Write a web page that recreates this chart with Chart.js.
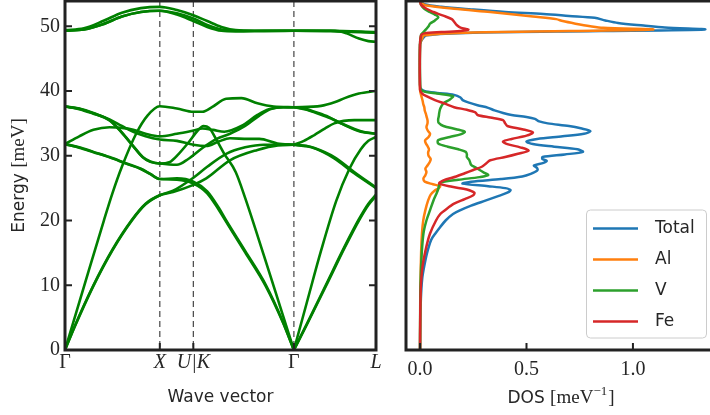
<!DOCTYPE html>
<html><head><meta charset="utf-8">
<script src="https://cdn.jsdelivr.net/npm/chart.js@4.4.1/dist/chart.umd.min.js"></script>
<style>
html,body{margin:0;padding:0;background:#fff;}
#wrap{position:relative;width:710px;height:415px;overflow:hidden;background:#fff;}
canvas{position:absolute;top:0;}
#c1{left:0;} #c2{left:390px;}
</style></head><body>
<div id="wrap"><canvas id="c1" width="390" height="415"></canvas><canvas id="c2" width="320" height="415"></canvas></div>
<script>
// ---------- axis ticks ----------
const kTicks = [0, 1, 1.3536, 2.4142, 3.2802];
const kLabels = ['Γ', 'X', 'U|K', 'Γ', 'L'];
const energyTicks = [0, 10, 20, 30, 40, 50];
const dosTicks = [0, 0.5, 1.0];

// ---------- phonon branches, path Γ–X–U|K–Γ : [k, E (meV)] ----------
const b1 = [[0,49.4],[0.2,49.7],[0.4,50.8],[0.6,52.1],[0.8,52.8],[1,53.0],[1.18,52.5],[1.354,51.7],[1.5,50.8],[1.65,49.9],[1.8,49.4],[2.0,49.3],[2.414,49.3]];
const b2 = [[0,49.3],[0.2,49.5],[0.4,50.3],[0.6,51.5],[0.8,52.2],[1,52.4],[1.18,52.0],[1.354,51.2],[1.5,50.2],[1.65,49.5],[1.8,49.3],[2.414,49.3]];
const b3 = [[0,49.3],[0.2,49.5],[0.4,50.3],[0.6,51.5],[0.8,52.2],[1,52.4],[1.18,51.8],[1.354,50.8],[1.5,49.9],[1.65,49.3],[1.8,49.2],[2.1,49.25],[2.414,49.3]];
const b4 = [[0,0],[0.2,9.8],[0.41,20],[0.5,24.2],[0.6,28.3],[0.75,33.4],[0.87,36.2],[1,37.65],[1.18,37.3],[1.354,36.8],[1.45,36.8],[1.55,37.5],[1.7,38.8],[1.86,38.9],[2.03,38.1],[2.2,37.6],[2.414,37.5]];
const b5 = [[0,31.8],[0.15,33.0],[0.3,34.0],[0.47,34.4],[0.6,34.3],[0.72,34.0],[0.85,33.4],[1,33.0],[1.18,33.4],[1.354,33.9],[1.45,34.2],[1.56,34.0],[1.68,33.7],[1.86,34.6],[2.03,36.3],[2.15,37.2],[2.3,37.5],[2.414,37.5]];
const b6 = [[0,37.6],[0.15,37.2],[0.3,36.5],[0.47,35.6],[0.6,34.6],[0.72,33.7],[0.85,33.0],[1,32.5],[1.18,32.3],[1.354,31.7],[1.49,31.5],[1.62,32.2],[1.74,32.7],[1.93,32.6],[2.05,32.6],[2.24,31.9],[2.414,31.7]];
const b7 = [[0,37.6],[0.15,37.3],[0.3,36.6],[0.47,35.5],[0.6,33.6],[0.72,31.5],[0.82,29.8],[0.9,29.1],[1,28.8],[1.1,29.0],[1.2,30.3],[1.3,32.0],[1.4,33.9],[1.46,34.6],[1.52,34.3],[1.6,32.4],[1.68,30.3],[1.8,27.5],[1.9,23.5],[2.1,14.5],[2.25,7.6],[2.414,0]];
const b8 = [[0,37.6],[0.15,37.25],[0.3,36.55],[0.47,35.45],[0.6,33.55],[0.72,31.45],[0.82,29.75],[0.9,29.05],[1,28.8],[1.18,28.6],[1.3,29.5],[1.45,31.2],[1.6,32.6],[1.74,33.4],[1.9,34.6],[2.05,36.2],[2.17,37.2],[2.3,37.5],[2.414,37.5]];
const b9 = [[0,31.8],[0.15,31.3],[0.3,30.6],[0.47,29.8],[0.65,28.8],[0.8,28.0],[0.9,27.2],[1,26.4],[1.18,26.5],[1.354,26.0],[1.5,24.5],[1.62,22.0],[1.7,20.0],[1.9,15.3],[2.12,10],[2.3,4.3],[2.414,0]];
const b10 = [[0,31.8],[0.15,31.25],[0.3,30.55],[0.47,29.75],[0.65,28.75],[0.8,27.95],[0.9,27.15],[1,26.4],[1.18,26.3],[1.354,25.7],[1.5,24.2],[1.62,21.7],[1.7,19.8],[1.9,15.1],[2.12,9.8],[2.3,4.2],[2.414,0]];
const b11 = [[0,0],[0.1,3.6],[0.3,10],[0.5,15.5],[0.7,20],[0.85,22.6],[1,23.9],[1.14,24.4],[1.354,25.5],[1.49,26.5],[1.74,29.3],[2.03,30.9],[2.245,31.6],[2.414,31.7]];
const b12 = [[0,0],[0.1,3.5],[0.3,9.9],[0.5,15.4],[0.7,19.9],[0.85,22.5],[1,23.9],[1.14,24.6],[1.354,26.6],[1.5,28.3],[1.7,30.3],[1.9,31.3],[2.1,31.7],[2.414,31.7]];

// ---------- phonon branches, path Γ–L ----------
const l1 = [[2.414,49.3],[2.85,49.3],[2.97,48.9],[3.1,48.1],[3.2,47.7],[3.28,47.6]];
const l2 = [[2.414,49.3],[2.8,49.3],[3.28,49.1]];
const l3 = [[2.414,49.3],[2.8,49.25],[3.28,49.0]];
const l4 = [[2.414,37.5],[2.7,37.7],[2.85,38.3],[2.95,38.9],[3.1,39.6],[3.28,40.0]];
const l5 = [[2.414,37.5],[2.55,37.2],[2.63,36.8],[2.78,36.0],[2.91,35.0],[3.12,33.7],[3.28,33.4]];
const l6 = [[2.414,31.7],[2.52,32.3],[2.63,33.2],[2.74,34.2],[2.84,35.0],[3.05,35.5],[3.28,35.5]];
const l7 = [[2.414,0],[2.55,7.3],[2.7,15.3],[2.86,23.0],[3.0,28.0],[3.12,31.0],[3.2,32.3],[3.28,32.9]];
const l8 = [[2.414,37.5],[2.55,37.1],[2.65,36.6],[2.8,35.8],[2.93,34.9],[3.12,33.8],[3.28,33.4]];
const l9 = [[2.414,0],[2.55,4.0],[2.75,10],[2.95,16.0],[3.1,20.2],[3.2,22.6],[3.28,24.0]];
const l10 = [[2.414,0],[2.55,3.9],[2.75,9.8],[2.95,15.8],[3.1,20.0],[3.2,22.4],[3.28,23.8]];
const l11 = [[2.414,31.7],[2.55,31.5],[2.63,31.2],[2.84,29.8],[3.05,27.5],[3.28,25.1]];
const l12 = [[2.414,31.7],[2.6,31.3],[2.84,29.6],[3.05,27.3],[3.28,25.0]];

// ---------- DOS : [E (meV), DOS (1/meV)] ----------
const dosTotal = [[0,0],[4,0.001],[8,0.004],[11,0.01],[13,0.02],[15,0.033],[17,0.052],[18,0.072],[19,0.095],[20,0.12],[21,0.155],[21.6,0.19],[22.3,0.24],[23.1,0.31],[23.8,0.37],[24.3,0.41],[24.7,0.425],[25.0,0.40],[25.3,0.32],[25.7,0.20],[26.0,0.24],[26.4,0.38],[26.8,0.48],[27.2,0.52],[27.7,0.55],[28.1,0.55],[28.5,0.535],[28.9,0.58],[29.2,0.595],[29.5,0.575],[29.8,0.575],[30.2,0.68],[30.6,0.765],[31.0,0.74],[31.4,0.63],[31.8,0.53],[32.2,0.50],[32.6,0.55],[33.0,0.67],[33.4,0.77],[33.8,0.80],[34.2,0.76],[34.6,0.70],[35.0,0.60],[35.3,0.56],[35.7,0.54],[36.0,0.50],[36.3,0.43],[36.6,0.39],[37.0,0.35],[37.4,0.32],[37.8,0.27],[38.2,0.23],[38.6,0.20],[39.0,0.19],[39.4,0.16],[39.7,0.08],[40.0,0.02],[40.4,0.003],[41,0],[47.2,0],[48.0,0.01],[48.6,0.03],[49.0,0.25],[49.25,0.85],[49.5,1.338],[49.8,1.15],[50.1,1.05],[50.5,0.93],[50.9,0.87],[51.3,0.82],[51.6,0.70],[51.9,0.58],[52.2,0.40],[52.6,0.24],[53.0,0.10],[53.4,0.02],[53.9,0]];
const dosAl = [[0,0],[10,0.002],[15,0.005],[18,0.009],[20,0.015],[21.6,0.025],[23.1,0.038],[24.0,0.05],[24.6,0.068],[25.0,0.088],[25.3,0.094],[25.6,0.06],[26.0,0.022],[26.5,0.016],[27.0,0.025],[27.5,0.03],[28.0,0.025],[28.5,0.035],[29.0,0.045],[29.5,0.05],[30.0,0.04],[30.5,0.038],[31.0,0.042],[31.5,0.035],[32.0,0.026],[32.4,0.024],[32.9,0.04],[33.4,0.047],[33.9,0.036],[34.4,0.03],[35.0,0.035],[35.5,0.035],[36.0,0.031],[36.5,0.027],[37.0,0.022],[37.5,0.02],[38.0,0.015],[38.5,0.012],[39.0,0.008],[39.6,0.003],[40.2,0],[47.2,0],[48.0,0.008],[48.6,0.02],[49.0,0.22],[49.25,0.7],[49.5,1.095],[49.75,0.86],[50.0,0.80],[50.4,0.73],[50.8,0.67],[51.1,0.64],[51.5,0.53],[51.9,0.42],[52.2,0.33],[52.7,0.16],[53.2,0.03],[53.6,0.005],[53.9,0]];
const dosV = [[0,0],[8,0.001],[12,0.004],[15,0.008],[18,0.016],[20,0.03],[21.6,0.047],[23.1,0.063],[24.0,0.075],[24.8,0.085],[25.5,0.09],[25.9,0.10],[26.3,0.18],[26.7,0.28],[27.0,0.32],[27.4,0.30],[27.8,0.28],[28.2,0.26],[28.6,0.24],[29.0,0.235],[29.4,0.23],[29.8,0.22],[30.2,0.22],[30.6,0.215],[31.0,0.18],[31.4,0.13],[31.9,0.085],[32.4,0.085],[32.9,0.14],[33.3,0.19],[33.7,0.21],[34.1,0.17],[34.6,0.11],[35.1,0.087],[35.6,0.085],[36.1,0.088],[36.6,0.09],[37.3,0.095],[38.1,0.11],[38.7,0.14],[39.2,0.155],[39.6,0.08],[39.9,0.02],[40.3,0.003],[41,0],[47.2,0],[48.7,0.005],[49.1,0.016],[49.6,0.03],[50.0,0.04],[50.4,0.047],[50.9,0.07],[51.4,0.086],[51.8,0.07],[52.2,0.045],[52.7,0.02],[53.3,0.005],[53.9,0]];
const dosFe = [[0,0],[6,0.001],[10,0.004],[13,0.012],[16,0.03],[18,0.047],[20,0.075],[21,0.095],[21.6,0.117],[22.6,0.16],[23.3,0.21],[23.9,0.25],[24.3,0.255],[24.8,0.22],[25.2,0.15],[25.7,0.09],[26.2,0.11],[26.8,0.17],[27.3,0.21],[27.8,0.25],[28.3,0.29],[28.8,0.31],[29.3,0.33],[29.8,0.40],[30.3,0.46],[30.8,0.51],[31.3,0.47],[31.8,0.41],[32.2,0.39],[32.6,0.43],[33.1,0.50],[33.6,0.53],[34.1,0.48],[34.6,0.41],[35.0,0.40],[35.5,0.39],[35.9,0.33],[36.3,0.27],[36.7,0.26],[37.1,0.22],[37.5,0.16],[38.0,0.12],[38.6,0.07],[39.2,0.03],[39.6,0.01],[40.2,0],[47.2,0],[48.6,0.005],[48.9,0.02],[49.1,0.10],[49.3,0.20],[49.5,0.227],[49.8,0.19],[50.2,0.172],[50.7,0.16],[51.1,0.149],[51.5,0.12],[51.9,0.085],[52.2,0.063],[52.7,0.03],[53.3,0.005],[53.9,0]];
const dosNames = ['Total', 'Al', 'V', 'Fe'];

// ---------- styles ----------
const BAND_COLOR = '#008000';
const DOS_COLORS = ['#1f77b4', '#ff7f0e', '#2ca02c', '#d62728'];
const INK = '#262626';
const SERIF = '"Liberation Serif", "DejaVu Serif", serif';
const SANS = '"DejaVu Sans", sans-serif';

const bandArrays = [b1,b2,b3,b4,b5,b6,b7,b8,b9,b10,b11,b12,l1,l2,l3,l4,l5,l6,l7,l8,l9,l10,l11,l12];
const bandDatasets = bandArrays.map(arr => ({
  data: arr.map(p => ({x: p[0], y: p[1]})),
  borderColor: BAND_COLOR, borderWidth: 2.6, pointRadius: 0, fill: false,
  cubicInterpolationMode: 'monotone'
}));

const dosArrays = [dosTotal, dosAl, dosV, dosFe];
const dosDatasets = dosArrays.map((arr, i) => ({
  label: dosNames[i],
  data: arr.map(p => ({x: p[1], y: p[0]})),
  borderColor: DOS_COLORS[i], borderWidth: 2.5, pointRadius: 0, fill: false,
  tension: 0.3, order: 4 - i
}));

function drawParts(ctx, parts, x, y, angle) {
  ctx.save();
  ctx.translate(x, y);
  ctx.rotate(angle || 0);
  let total = 0;
  parts.forEach(p => { ctx.font = p.font; p.w = ctx.measureText(p.text).width + (p.gap || 0); total += p.w; });
  let cx = -total / 2;
  ctx.fillStyle = INK; ctx.textBaseline = 'alphabetic'; ctx.textAlign = 'left';
  parts.forEach(p => { ctx.font = p.font; ctx.fillText(p.text, cx, p.dy || 0); cx += p.w; });
  ctx.restore();
}

function drawFrame(ctx, a, sides) {
  ctx.save();
  ctx.strokeStyle = '#222'; ctx.lineWidth = 3; ctx.lineCap = 'square';
  ctx.beginPath();
  if (sides.left) { ctx.moveTo(a.left, a.top); ctx.lineTo(a.left, a.bottom); }
  if (sides.right) { ctx.moveTo(a.right, a.top); ctx.lineTo(a.right, a.bottom); }
  if (sides.top) { ctx.moveTo(a.left, a.top); ctx.lineTo(a.right + (sides.right ? 0 : 5), a.top); }
  if (sides.bottom) { ctx.moveTo(a.left, a.bottom); ctx.lineTo(a.right + (sides.right ? 0 : 5), a.bottom); }
  ctx.stroke();
  ctx.restore();
}

const leftPlugin = {
  id: 'leftDeco',
  beforeDatasetsDraw(chart) {
    const {ctx, chartArea: a, scales: {x}} = chart;
    ctx.save();
    ctx.strokeStyle = '#444'; ctx.lineWidth = 1.2; ctx.setLineDash([6, 4]);
    kTicks.slice(1, -1).forEach(k => {
      const px = x.getPixelForValue(k);
      ctx.beginPath(); ctx.moveTo(px, a.top); ctx.lineTo(px, a.bottom); ctx.stroke();
    });
    ctx.restore();
  },
  afterDatasetsDraw(chart) {
    const {ctx, chartArea: a, scales: {x, y}} = chart;
    drawFrame(ctx, a, {left: true, right: true, top: true, bottom: true});
    ctx.save();
    ctx.strokeStyle = '#222'; ctx.lineWidth = 2;
    ctx.beginPath();
    energyTicks.slice(1).forEach(v => {
      const py = y.getPixelForValue(v);
      ctx.moveTo(a.left, py); ctx.lineTo(a.left + 7, py);
      ctx.moveTo(a.right, py); ctx.lineTo(a.right - 7, py);
    });
    kTicks.slice(1, -1).forEach(k => {
      const px = x.getPixelForValue(k);
      ctx.moveTo(px, a.bottom); ctx.lineTo(px, a.bottom - 7);
    });
    ctx.stroke();
    ctx.restore();
  },
  afterDraw(chart) {
    const {ctx, chartArea: a} = chart;
    drawParts(ctx, [{text: 'Wave vector', font: '17px ' + SANS}], (a.left + a.right) / 2, 402);
    drawParts(ctx, [{text: 'Energy ', font: '17px ' + SANS}, {text: '[meV]', font: '19px ' + SERIF}], 24, (a.top + a.bottom) / 2, -Math.PI / 2);
  }
};

const rightPlugin = {
  id: 'rightDeco',
  afterDatasetsDraw(chart) {
    const {ctx, chartArea: a, scales: {x}} = chart;
    drawFrame(ctx, a, {left: true, right: false, top: true, bottom: true});
    ctx.save();
    ctx.strokeStyle = '#222'; ctx.lineWidth = 2;
    ctx.beginPath();
    dosTicks.forEach(v => {
      const px = x.getPixelForValue(v);
      ctx.moveTo(px, a.bottom); ctx.lineTo(px, a.bottom - 7);
    });
    ctx.stroke();
    ctx.restore();
  },
  afterDraw(chart) {
    const {ctx, chartArea: a} = chart;
    drawParts(ctx, [
      {text: 'DOS ', font: '17px ' + SANS},
      {text: '[meV', font: '19px ' + SERIF},
      {text: '−1', font: '13px ' + SERIF, dy: -8, gap: 1},
      {text: ']', font: '19px ' + SERIF}
    ], 171, 402.5);
    // legend
    const bx = 196.5, by = 210, bw = 120, bh = 128;
    ctx.save();
    ctx.beginPath();
    ctx.roundRect(bx, by, bw, bh, 4);
    ctx.fillStyle = 'rgba(255,255,255,0.8)'; ctx.fill();
    ctx.strokeStyle = '#cccccc'; ctx.lineWidth = 1; ctx.stroke();
    ctx.font = '17px ' + SANS; ctx.textBaseline = 'middle'; ctx.textAlign = 'left';
    dosNames.forEach((name, i) => {
      const yy = by + 18.5 + i * 31;
      ctx.strokeStyle = DOS_COLORS[i]; ctx.lineWidth = 2.5;
      ctx.beginPath(); ctx.moveTo(203, yy); ctx.lineTo(248, yy); ctx.stroke();
      ctx.fillStyle = INK; ctx.fillText(name, 265, yy);
    });
    ctx.restore();
  }
};

new Chart(document.getElementById('c1'), {
  type: 'line',
  data: {datasets: bandDatasets},
  options: {
    responsive: false, animation: false, devicePixelRatio: 1,
    layout: {padding: {left: 0, right: 14, top: 1, bottom: 0}},
    plugins: {legend: {display: false}, tooltip: {enabled: false}},
    scales: {
      x: {
        type: 'linear', min: 0, max: kTicks[kTicks.length - 1],
        grid: {display: false, drawTicks: false}, border: {display: false},
        afterBuildTicks: s => { s.ticks = kTicks.map(v => ({value: v})); },
        ticks: {
          autoSkip: false, maxRotation: 0, padding: 1, color: INK,
          callback: (v, i) => kLabels[i],
          font: ctx => ({family: SERIF, size: 20, style: kLabels[ctx.index] === 'Γ' ? 'normal' : 'italic'})
        },
        afterFit: s => { s.height = 65; s.paddingLeft = 0; s.paddingRight = 0; }
      },
      y: {
        type: 'linear', min: 0, max: 53.9,
        grid: {display: false, drawTicks: false}, border: {display: false},
        afterBuildTicks: s => { s.ticks = energyTicks.map(v => ({value: v})); },
        ticks: {padding: 5, color: INK, font: {family: SERIF, size: 20}, callback: v => String(v)},
        afterFit: s => { s.width = 65; s.paddingTop = 0; s.paddingBottom = 0; }
      }
    }
  },
  plugins: [leftPlugin]
});

new Chart(document.getElementById('c2'), {
  type: 'line',
  data: {datasets: dosDatasets},
  options: {
    responsive: false, animation: false, devicePixelRatio: 1,
    layout: {padding: {left: 16, right: 0, top: 1, bottom: 0}},
    plugins: {legend: {display: false}, tooltip: {enabled: false}},
    scales: {
      x: {
        type: 'linear', min: -0.066, max: 1.362,
        grid: {display: false, drawTicks: false}, border: {display: false},
        afterBuildTicks: s => { s.ticks = dosTicks.map(v => ({value: v})); },
        ticks: {autoSkip: false, maxRotation: 0, padding: 8, color: INK, font: {family: SERIF, size: 20}, callback: v => v.toFixed(1)},
        afterFit: s => { s.height = 65; s.paddingLeft = 0; s.paddingRight = 0; }
      },
      y: {type: 'linear', min: 0, max: 53.9, display: false}
    }
  },
  plugins: [rightPlugin]
});
</script>
</body></html>
